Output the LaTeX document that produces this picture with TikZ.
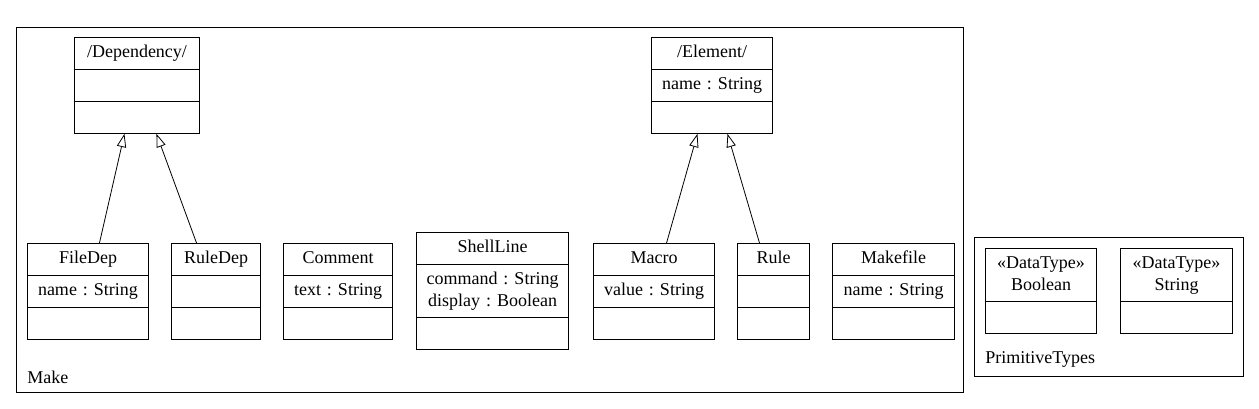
\documentclass[tikz,border=0pt]{standalone}
\usepackage{fontspec}
\setmainfont{Liberation Serif}
\frenchspacing
\usepackage{tikz}
\usetikzlibrary{shapes.multipart,arrows.meta}
\tikzstyle{cl} = [rectangle split, rectangle split parts=3, draw=black, line width=0.75pt, inner xsep=0pt, inner ysep=3.6pt, align=center, anchor=north west, font=\fontsize{13.5}{16}\selectfont]
\tikzstyle{dt} = [rectangle split, rectangle split parts=2, draw=black, line width=0.75pt, inner xsep=0pt, inner ysep=3.6pt, align=center, anchor=north west, font=\fontsize{13.5}{16}\selectfont]
\tikzstyle{pk} = [rectangle, draw=black, line width=0.75pt, inner sep=0pt, anchor=north west]
\tikzstyle{lb} = [anchor=base west, inner sep=0pt, font=\fontsize{13.5}{16}\selectfont]
\tikzstyle{gen} = [line width=0.6pt, -{Triangle[open, length=10pt, width=7pt]}]

\begin{document}
\begin{tikzpicture}[x=0.75pt, y=-0.75pt]
    \useasboundingbox (0,0) rectangle (1259,408);
    \node (Make) [pk, minimum width=710.25pt, minimum height=273.75pt] at (16,27) {};
    \node (MakeName) [lb] at (27,383) {Make};
    \node (Prim) [pk, minimum width=201.75pt, minimum height=104.25pt] at (974,237) {};
    \node (PrimName) [lb] at (985,363) {PrimitiveTypes};
    \node (Dependency) [cl, text width=93.75pt] at (74,37) {/Dependency/\strut \nodepart{second} \strut \nodepart{third} \strut};
    \node (Element) [cl, text width=90.75pt] at (651,37) {/Element/\strut \nodepart{second} name : String\strut \nodepart{third} \strut};
    \node (FileDep) [cl, text width=90.75pt] at (27,243) {FileDep\strut \nodepart{second} name : String\strut \nodepart{third} \strut};
    \node (RuleDep) [cl, text width=66.75pt] at (171,243) {RuleDep\strut \nodepart{second} \strut \nodepart{third} \strut};
    \node (Comment) [cl, text width=81.75pt] at (283,243) {Comment\strut \nodepart{second} text : String\strut \nodepart{third} \strut};
    \node (ShellLine) [cl, text width=114pt] at (416,232) {ShellLine\strut \nodepart{second} command : String\strut\\ display : Boolean\strut \nodepart{third} \strut};
    \node (Macro) [cl, text width=90.75pt] at (593,243) {Macro\strut \nodepart{second} value : String\strut \nodepart{third} \strut};
    \node (Rule) [cl, text width=54pt] at (737,243) {Rule\strut \nodepart{second} \strut \nodepart{third} \strut};
    \node (Makefile) [cl, text width=91.5pt] at (832,243) {Makefile\strut \nodepart{second} name : String\strut \nodepart{third} \strut};
    \node (Boolean) [dt, text width=83.25pt] at (985,248) {«DataType»\strut\\ Boolean\strut \nodepart{second} \strut};
    \node (String) [dt, text width=84pt] at (1120,248) {«DataType»\strut\\ String\strut \nodepart{second} \strut};
    \draw[gen] ([xshift=8.6pt]FileDep.north) -- ([xshift=-9.4pt]Dependency.south);
    \draw[gen] ([xshift=-14.6pt]RuleDep.north) -- ([xshift=14.6pt]Dependency.south);
    \draw[gen] ([xshift=9.4pt]Macro.north) -- ([xshift=-10.9pt]Element.south);
    \draw[gen] ([xshift=-10.5pt]Rule.north) -- ([xshift=11.6pt]Element.south);
\end{tikzpicture}
\end{document}
